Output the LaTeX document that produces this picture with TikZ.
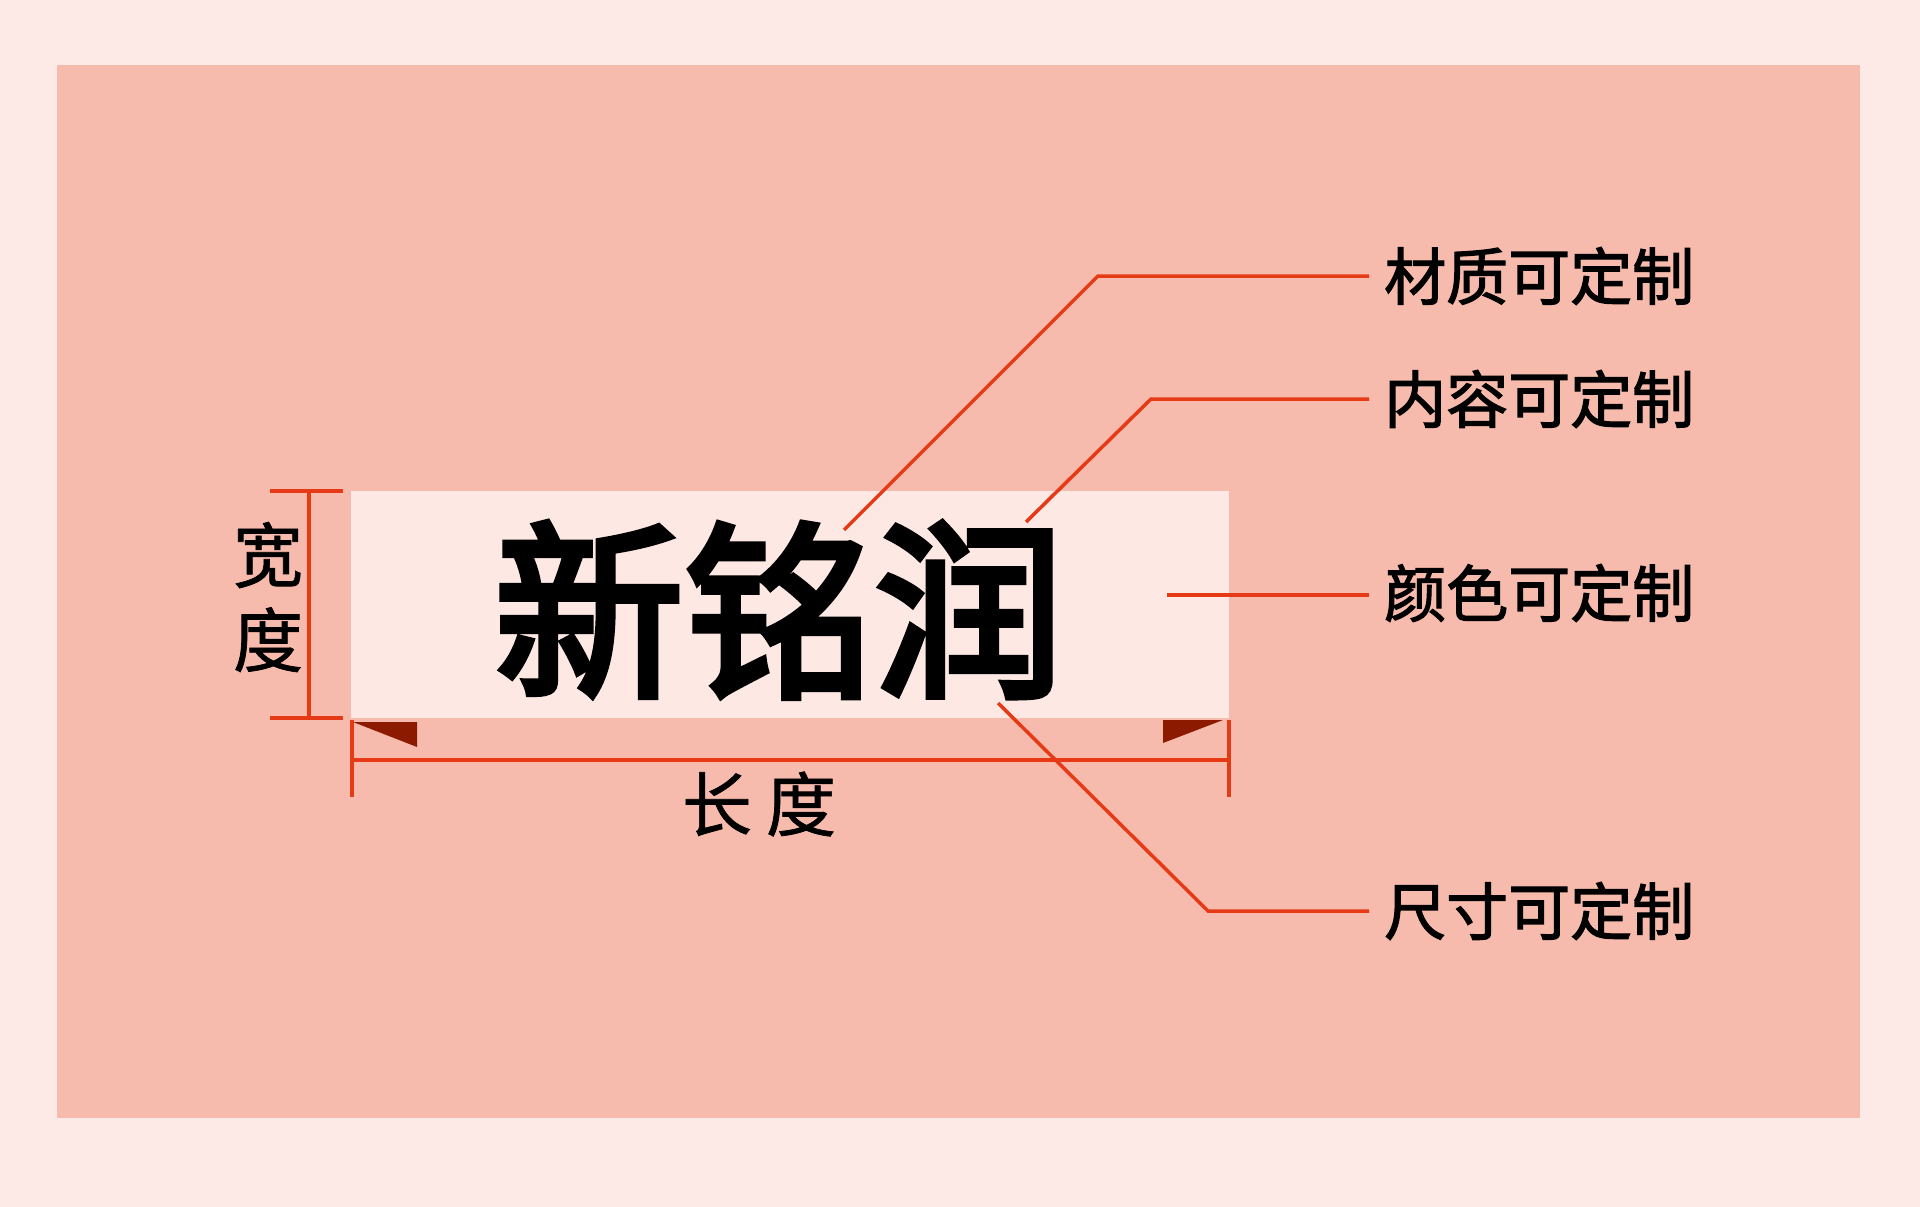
\documentclass[tikz,border=0pt]{standalone}
\usepackage{fontspec}
\usepackage{xcolor}
\usepackage{tikz}
\usetikzlibrary{positioning, calc}
\newfontfamily\cjk{Noto Sans CJK SC}
\newfontfamily\cjkbrand[FakeBold=3.5]{Noto Sans CJK SC}
\newfontfamily\cjkmid[FakeBold=2]{Noto Sans CJK SC}
\newfontfamily\cjkdim[FakeBold=1]{Noto Sans CJK SC}

\definecolor{bgpink}{HTML}{FDE9E5}
\definecolor{cloth}{HTML}{F7BBAD}
\definecolor{tagpink}{HTML}{FDE8E3}
\definecolor{leadred}{HTML}{E63A17}
\definecolor{darkred}{HTML}{8B1A00}

\begin{document}
\begin{tikzpicture}[
    x=1pt, y=-1pt,
    panel/.style={inner sep=0pt, anchor=north west},
    callout/.style={font=\cjkmid\fontsize{62}{62}\selectfont, anchor=west, inner sep=0pt, inner xsep=15pt},
    dimtext/.style={font=\cjkdim\fontsize{70}{85}\selectfont, align=center, inner sep=0pt},
    lead/.style={draw=leadred, line width=3.5pt},
    dimline/.style={draw=leadred, line width=3.5pt},
    wedge/.style={fill=darkred}
]
\useasboundingbox (0,0) rectangle (1920,1207);
\fill[bgpink] (0,0) rectangle (1920,1207);

% Cloth and tag
\node[panel, fill=cloth, minimum width=1803pt, minimum height=1053pt] (cloth) at (57,65) {};
\node[panel, fill=tagpink, minimum width=878pt, minimum height=227pt] (tag) at (351,491) {};
\node[font=\cjkbrand\fontsize{190}{190}\selectfont, inner sep=0pt] (brand) at (779,610) {新铭润};

% Width
\coordinate (wtop) at (309,491);
\coordinate (wbot) at (309,718);
\draw[dimline] (wtop) -- (wbot);
\draw[dimline] ($(wtop)+(-39,0)$) -- ($(wtop)+(34,0)$);
\draw[dimline] ($(wbot)+(-39,0)$) -- ($(wbot)+(34,0)$);
\node[dimtext] (width) at (268,597) {宽\\度};

% Length
\coordinate (lleft) at (352,760);
\coordinate (lright) at (1229,760);
\draw[dimline] (lleft) -- (lright);
\draw[dimline] ($(lleft)+(0,-40)$) -- ($(lleft)+(0,37)$);
\draw[dimline] ($(lright)+(0,-40)$) -- ($(lright)+(0,37)$);
\fill[wedge] (353,722) -- (417,722) -- (417,747) -- cycle;
\fill[wedge] (1163,720) -- (1223,720) -- (1163,743) -- cycle;
\node[dimtext] (length) at (759,804) {长\hspace{14pt}度};

% Callouts
\node[callout] (mat) at (1369,276) {材质可定制};
\node[callout] (cont) at (1369,399) {内容可定制};
\node[callout] (col) at (1369,593) {颜色可定制};
\node[callout] (size) at (1369,911) {尺寸可定制};

\coordinate (pmat) at (844,530);
\coordinate (pcont) at (1026,522);
\coordinate (pcol) at (1167,595);
\coordinate (psize) at (998,703);

\draw[lead] (pmat) -- (1098,276) -- (mat.west);
\draw[lead] (pcont) -- (1151,399) -- (cont.west);
\draw[lead] (pcol) -- (pcol -| col.west);
\draw[lead] (psize) -- (1208,911) -- (size.west);

\end{tikzpicture}
\end{document}
